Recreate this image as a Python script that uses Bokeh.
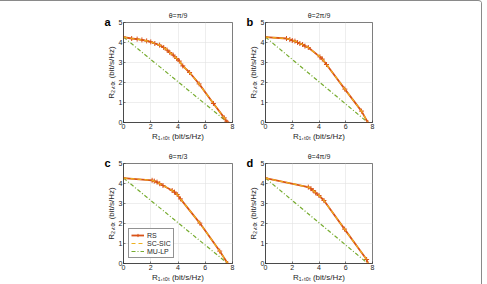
from bokeh.plotting import figure
from bokeh.layouts import column, row
from bokeh.models import Legend, LegendItem, Range1d, FixedTicker, Title
from bokeh.embed import file_html
from bokeh.resources import INLINE

# ---- data ----
panel_letters = ["a", "b", "c", "d"]
panel_titles = ["θ=π/9", "θ=2π/9", "θ=π/3", "θ=4π/9"]

rs_x_a = [0, 0.6, 1.0, 1.35, 1.7, 2.0, 2.3, 2.65, 2.95, 3.2, 3.4, 3.65, 3.9, 4.1, 4.35, 4.85, 5.55, 6.6, 7.4, 7.58, 7.65]
rs_y_a = [4.27, 4.2, 4.17, 4.13, 4.08, 4.03, 3.95, 3.87, 3.75, 3.62, 3.5, 3.37, 3.2, 3.07, 2.83, 2.5, 1.93, 0.95, 0.23, 0.03, 0]
rs_x_b = [0, 1.57, 1.82, 2.0, 2.2, 2.4, 2.57, 2.77, 2.95, 3.2, 4.07, 4.25, 4.56, 5.93, 7.18, 7.65]
rs_y_b = [4.27, 4.2, 4.15, 4.1, 4.07, 4.0, 3.95, 3.9, 3.82, 3.75, 3.28, 3.17, 2.9, 1.67, 0.57, 0]
rs_x_c = [0, 2.1, 2.26, 2.46, 2.66, 2.9, 3.57, 3.74, 3.94, 4.18, 5.6, 7.06, 7.65]
rs_y_c = [4.27, 4.16, 4.12, 4.07, 3.99, 3.9, 3.65, 3.57, 3.45, 3.23, 2.02, 0.62, 0]
rs_x_d = [0, 3.2, 3.4, 3.56, 3.75, 4.0, 4.37, 5.91, 7.56, 7.65]
rs_y_d = [4.27, 3.82, 3.74, 3.65, 3.53, 3.4, 3.15, 1.72, 0.2, 0]

sic_x = [rs_x_a, rs_x_b, rs_x_c, rs_x_d]
sic_y = [rs_y_a, rs_y_b, rs_y_c, rs_y_d]
rs_x = [rs_x_a, rs_x_b, rs_x_c, rs_x_d]
rs_y = [rs_y_a, rs_y_b, rs_y_c, rs_y_d]

mulp_x = [0, 7.65]
mulp_y = [4.27, 0]

x_ticks = [0, 2, 4, 6, 8]
y_ticks = [0, 1, 2, 3, 4, 5]

RS_COL = "#D95319"
SIC_COL = "#EDB120"
MU_COL = "#77AC30"
AX_COL = "#262626"
FONT = "Liberation Sans"

# layout geometry: (width, height, left, right, top, bottom)
geom = [
    (243, 142, 123, 11, 21, 21),
    (238, 142, 22, 109, 21, 21),
    (243, 141, 123, 11, 20, 21),
    (238, 141, 22, 109, 20, 21),
]


def make(i):
    w, h, l, r, t, b = geom[i]
    p = figure(width=w, height=h, output_backend="svg",
               toolbar_location=None, x_range=Range1d(0, 8), y_range=Range1d(0, 5),
               min_border_left=l, min_border_right=r, min_border_top=t, min_border_bottom=b,
               title=panel_titles[i])
    p.title.align = "center"
    p.title.text_font = FONT
    p.title.text_font_size = "7px"
    p.title.text_font_style = "normal"
    p.title.text_color = AX_COL
    p.title.standoff = 1
    p.title.offset = 0
    p.outline_line_color = AX_COL
    p.outline_line_width = 0.6
    p.background_fill_color = "white"
    p.border_fill_color = "white"
    for ax in (p.xaxis[0], p.yaxis[0]):
        ax.major_tick_out = 0
        ax.major_tick_in = 2
        ax.minor_tick_out = 0
        ax.minor_tick_in = 0
        ax.major_label_standoff = 1
        ax.axis_label_standoff = 0
        ax.major_label_text_font = FONT
        ax.major_label_text_font_size = "7px"
        ax.major_label_text_color = AX_COL
        ax.axis_label_text_font = FONT
        ax.axis_label_text_font_size = "8px"
        ax.axis_label_text_font_style = "normal"
        ax.axis_label_text_color = AX_COL
        ax.axis_line_color = AX_COL
        ax.axis_line_width = 0.6
        ax.major_tick_line_color = AX_COL
        ax.major_tick_line_width = 0.6
    p.xaxis.ticker = FixedTicker(ticks=x_ticks)
    p.yaxis.ticker = FixedTicker(ticks=y_ticks)
    p.xaxis.axis_label = "R₁,ₜₒₜ (bit/s/Hz)"
    p.yaxis.axis_label = "R₂,ₜₒₜ (bit/s/Hz)"
    p.grid.grid_line_color = "#e3e3e3"
    p.grid.grid_line_width = 0.6

    r_mu = p.line(mulp_x, mulp_y, line_color=MU_COL, line_width=1.2, line_dash="4 2 1 2")
    r_rs = p.line(rs_x[i], rs_y[i], line_color=RS_COL, line_width=1.8)
    r_rsm = p.scatter(rs_x[i], rs_y[i], marker="cross", size=5, line_color=RS_COL, line_width=1.0)
    r_sic = p.line(sic_x[i], sic_y[i], line_color=SIC_COL, line_width=1.2, line_dash="4 3")

    p.add_layout(Title(text=panel_letters[i], align="left", offset=-19, text_font=FONT,
                       text_font_size="11px", text_font_style="bold", text_color="black",
                       standoff=-11), "above")

    if i == 2:
        leg = Legend(items=[LegendItem(label="RS", renderers=[r_rs, r_rsm]),
                            LegendItem(label="SC-SIC", renderers=[r_sic]),
                            LegendItem(label="MU-LP", renderers=[r_mu])],
                     location="bottom_left")
        leg.label_text_font = FONT
        leg.label_text_font_size = "7px"
        leg.label_text_color = AX_COL
        leg.glyph_width = 13
        leg.glyph_height = 8
        leg.label_height = 8
        leg.label_standoff = 3
        leg.spacing = 0
        leg.padding = 2
        leg.margin = 5
        leg.border_line_color = AX_COL
        leg.border_line_width = 0.6
        leg.background_fill_alpha = 1.0
        p.add_layout(leg, "center")
    return p


plots = [make(i) for i in range(4)]
lay = column(row(plots[0], plots[1]), row(plots[2], plots[3]),
             styles={"border-top": "1px solid #8a8a8a", "border-right": "1px solid #8a8a8a",
                     "border-top-right-radius": "4px"})

open("out.html", "w").write(file_html(lay, INLINE))
